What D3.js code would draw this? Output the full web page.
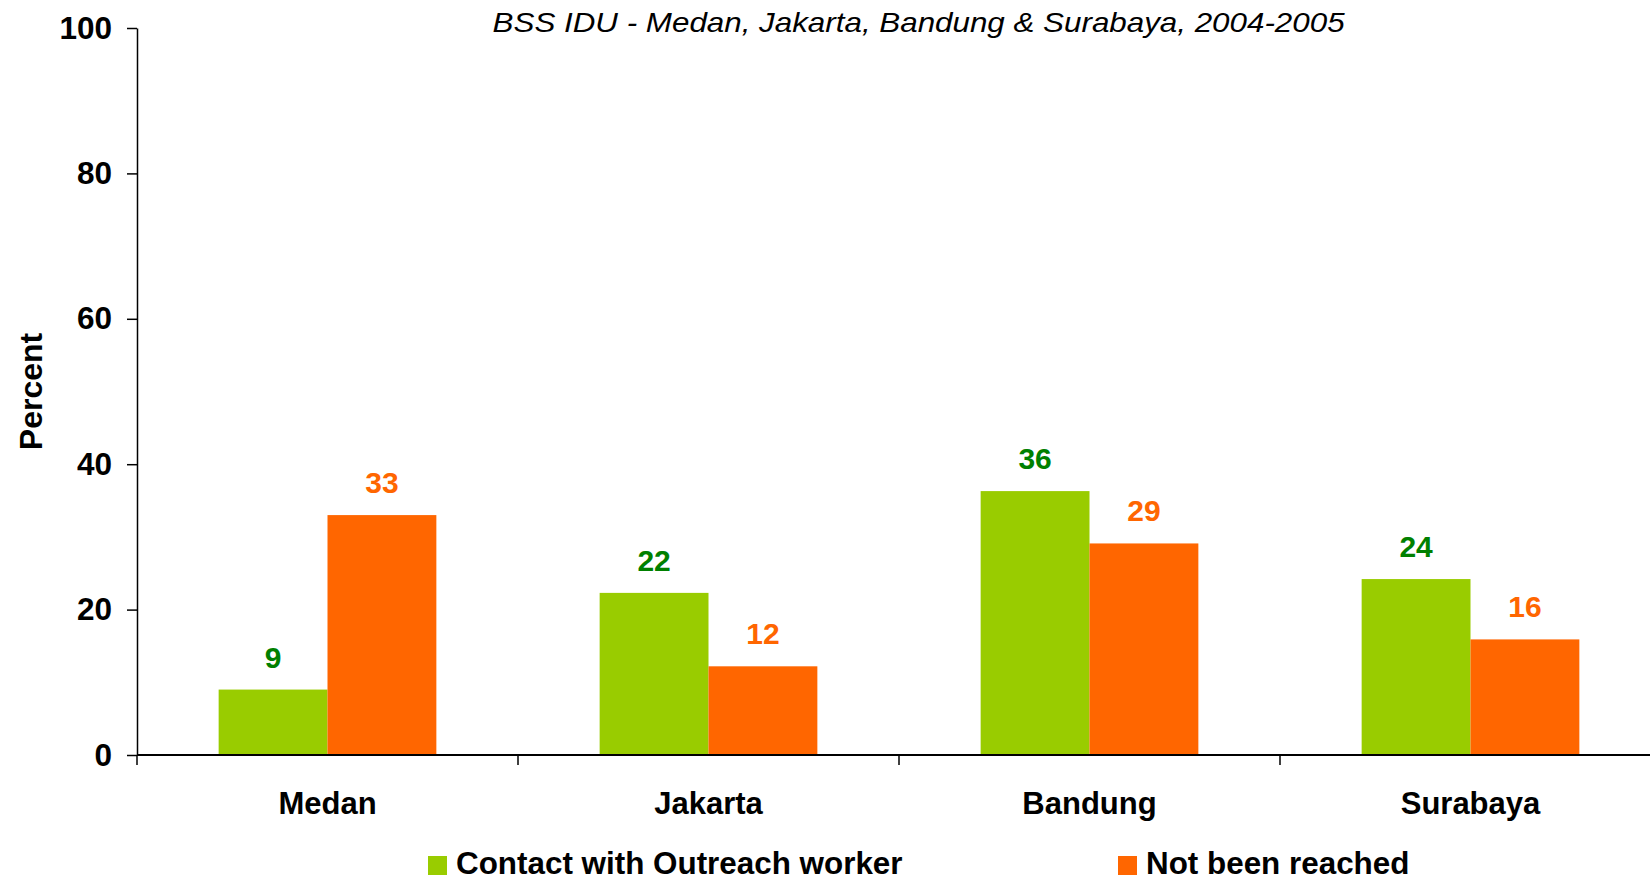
<!DOCTYPE html>
<html>
<head>
<meta charset="utf-8">
<script src="https://cdn.jsdelivr.net/npm/d3@7"></script>
<style>
  body { margin: 0; background: #fff; }
  text { font-family: "Liberation Sans", Arial, sans-serif; }
</style>
</head>
<body>
<div id="chart"></div>
<script>
// Data
var cities = ["Medan", "Jakarta", "Bandung", "Surabaya"]
var seriesNames = ["Contact with Outreach worker", "Not been reached"]
var contactValues = [9, 22.3, 36.3, 24.2]
var notReachedValues = [33, 12.2, 29.1, 15.9]
var yTicks = [0, 20, 40, 60, 80, 100]

var barColors = ["#99CC00", "#FF6600"]
var labelColors = ["#008000", "#FF6600"]

var width = 1650, height = 880

var svg = d3.select('#chart').append('svg')
  .attr("width", width)
  .attr("height", height)

// Scales
var yScale = d3.scaleLinear()
  .domain([0, 100])
  .range([755, 28])

var xGroup = d3.scaleBand()
  .domain(cities)
  .range([137, 1661])
  .padding(0)

var xInner = d3.scaleBand()
  .domain([0, 1])
  .range([0, xGroup.bandwidth()])
  .paddingInner(0)
  .paddingOuter(0.75)

// Title
svg.append("text")
  .attr("x", 918.6)
  .attr("y", 32)
  .attr("text-anchor", "middle")
  .attr("font-style", "italic")
  .attr("font-size", 28)
  .attr("textLength", 852)
  .attr("lengthAdjust", "spacingAndGlyphs")
  .text("BSS IDU - Medan, Jakarta, Bandung & Surabaya, 2004-2005")

// Y axis
var yAxis = svg.append('g')
  .attr('transform', 'translate(137,0)')
  .call(d3.axisLeft(yScale).tickValues(yTicks).tickSize(10).tickSizeOuter(0).tickPadding(15))
yAxis.selectAll("text")
  .attr("font-size", 31.5)
  .attr("font-weight", "bold")
  .attr("font-family", '"Liberation Sans", Arial, sans-serif')
  .attr("fill", "#000")
yAxis.selectAll("line, path").attr("stroke", "#000").attr("stroke-width", 1.5)

// Y axis label
svg.append("text")
  .attr("transform", "translate(41.5,391.5) rotate(-90)")
  .attr("text-anchor", "middle")
  .attr("font-size", 32)
  .attr("font-weight", "bold")
  .text("Percent")

// Bars
var series = [contactValues, notReachedValues]
series.forEach(function(vals, s) {
  var g = svg.append("g")
  g.selectAll("rect")
    .data(vals)
    .enter().append("rect")
    .attr("x", function(d, i) { return xGroup(cities[i]) + xInner(s) })
    .attr("y", function(d) { return yScale(d) })
    .attr("width", xInner.bandwidth())
    .attr("height", function(d) { return yScale(0) - yScale(d) })
    .attr("fill", barColors[s])

  g.selectAll("text")
    .data(vals)
    .enter().append("text")
    .attr("x", function(d, i) { return xGroup(cities[i]) + xInner(s) + xInner.bandwidth() / 2 })
    .attr("y", function(d) { return yScale(d) - 22 })
    .attr("text-anchor", "middle")
    .attr("font-size", 30)
    .attr("font-weight", "bold")
    .attr("fill", labelColors[s])
    .text(function(d) { return Math.round(d) })
})

// X axis: baseline with ticks at the category boundaries
var xAxis = svg.append("g")
xAxis.append("line")
  .attr("x1", xGroup.range()[0]).attr("x2", xGroup.range()[1])
  .attr("y1", yScale(0)).attr("y2", yScale(0))
  .attr("stroke", "#000").attr("stroke-width", 2)

var boundaries = cities.map(function(c) { return xGroup(c) }).concat([xGroup.range()[1]])
xAxis.selectAll(".xtick")
  .data(boundaries)
  .enter().append("line")
  .attr("class", "xtick")
  .attr("x1", function(d) { return d }).attr("x2", function(d) { return d })
  .attr("y1", yScale(0)).attr("y2", yScale(0) + 10)
  .attr("stroke", "#000").attr("stroke-width", 1.5)

xAxis.selectAll(".xlabel")
  .data(cities)
  .enter().append("text")
  .attr("class", "xlabel")
  .attr("x", function(d) { return xGroup(d) + xGroup.bandwidth() / 2 })
  .attr("y", 814)
  .attr("text-anchor", "middle")
  .attr("font-size", 31)
  .attr("font-weight", "bold")
  .text(function(d) { return d })

// Legend
var legendX = [428, 1118]
var legend = svg.append("g")
seriesNames.forEach(function(name, s) {
  legend.append("rect")
    .attr("x", legendX[s])
    .attr("y", 856)
    .attr("width", 19)
    .attr("height", 19)
    .attr("fill", barColors[s])
  legend.append("text")
    .attr("x", legendX[s] + 28)
    .attr("y", 874)
    .attr("font-size", 31.4)
    .attr("font-weight", "bold")
    .text(name)
})
</script>
</body>
</html>
